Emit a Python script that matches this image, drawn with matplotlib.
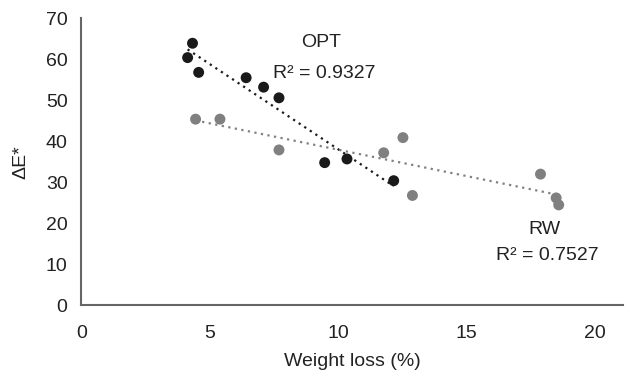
import numpy as np
import matplotlib
matplotlib.use('Agg')
from matplotlib import pyplot as plt

plt.rcParams['font.family'] = ['Liberation Sans', 'DejaVu Sans']

# OPT 데이터
opt_x = [4.33, 4.14, 4.57, 6.42, 7.10, 7.70, 9.48, 10.35, 12.17]
opt_y = [63.9, 60.4, 56.8, 55.5, 53.2, 50.6, 34.8, 35.7, 30.4]

# RW 데이터
rw_x = [4.45, 5.40, 7.70, 11.78, 12.53, 12.90, 17.89, 18.50, 18.60]
rw_y = [45.4, 45.4, 37.9, 37.2, 40.9, 26.8, 32.0, 26.2, 24.5]

x_ticks = [0, 5, 10, 15, 20]
y_ticks = [0, 10, 20, 30, 40, 50, 60, 70]

black = '#1a1a1a'
gray = '#808080'
txt = '#222222'

fig = plt.figure(figsize=(6.26, 3.72), dpi=100)
ax = fig.add_axes([0.130, 0.179, 0.865, 0.772])

# 추세선 (선형)
for xs, ys, c in [(opt_x, opt_y, black), (rw_x, rw_y, gray)]:
    coef = np.polyfit(xs, ys, 1)
    xx = np.array([min(xs), max(xs)])
    ax.plot(xx, np.polyval(coef, xx), color=c, linestyle=(0, (1, 2)), lw=1.6, zorder=2)

ax.scatter(rw_x, rw_y, s=62, color=gray, edgecolors='none', zorder=3)
ax.scatter(opt_x, opt_y, s=62, color=black, edgecolors='none', zorder=4)

ax.set_xlim(0, 21.1)
ax.set_ylim(0, 70)
ax.set_xticks(x_ticks)
ax.set_yticks(y_ticks)
ax.tick_params(length=0, labelsize=14, colors=txt)
ax.tick_params(axis='x', pad=14)
ax.tick_params(axis='y', pad=10)

for s in ['top', 'right']:
    ax.spines[s].set_visible(False)
for s in ['left', 'bottom']:
    ax.spines[s].set_color('#666666')
    ax.spines[s].set_linewidth(1.5)

ax.set_xlabel('Weight loss (%)', fontsize=14, color=txt, labelpad=8)
ax.set_ylabel('ΔE*', fontsize=14, color=txt, labelpad=12)

# 라벨
ax.text(9.35, 64.2, 'OPT', fontsize=14, ha='center', va='center', color=txt)
ax.text(9.45, 56.6, 'R² = 0.9327', fontsize=14, ha='center', va='center', color=txt)
ax.text(18.05, 18.6, 'RW', fontsize=14, ha='center', va='center', color=txt)
ax.text(18.15, 12.2, 'R² = 0.7527', fontsize=14, ha='center', va='center', color=txt)

fig.savefig('out.png', dpi=100)
